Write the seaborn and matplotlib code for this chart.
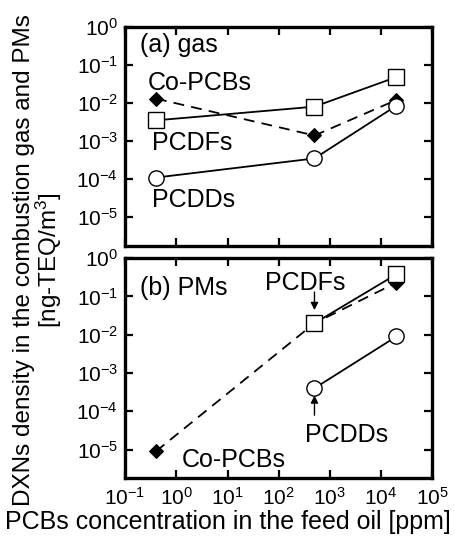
import matplotlib
matplotlib.use("Agg")
import matplotlib.pyplot as plt
import seaborn as sns
import pandas as pd

# feed oil PCB concentration [ppm]
x_ppm = [0.4, 500, 20000]
x_pm_short = [500, 20000]

# (a) combustion gas [ng-TEQ/m3]
gas_pcdfs = [3.5e-3, 8.0e-3, 4.8e-2]
gas_copcbs = [1.3e-2, 1.4e-3, 1.2e-2]
gas_pcdds = [1.1e-4, 3.5e-4, 8.5e-3]

# (b) particulate matter [ng-TEQ/m3]
pm_copcbs = [9e-6, 2.0e-2, 0.23]
pm_pcdfs = [2.0e-2, 0.38]
pm_pcdds = [4.0e-4, 9.0e-3]

TICK_FS = 15
TEXT_FS = 18

sns.set_style("ticks")
plt.rcParams["font.family"] = ["Liberation Sans", "DejaVu Sans"]
plt.rcParams["mathtext.fontset"] = "custom"
plt.rcParams["mathtext.rm"] = "Liberation Sans"
plt.rcParams["mathtext.it"] = "Liberation Sans"
plt.rcParams["font.size"] = TEXT_FS
for key in ["text.color", "axes.labelcolor", "axes.edgecolor",
            "xtick.color", "ytick.color"]:
    plt.rcParams[key] = "black"

fig = plt.figure(figsize=(4.55, 5.47), dpi=100)
ax_gas = fig.add_axes([0.275, 0.551, 0.675, 0.400])
ax_pm = fig.add_axes([0.275, 0.126, 0.675, 0.402])

square = dict(marker="s", markersize=11, markerfacecolor="white",
              markeredgecolor="black", markeredgewidth=1.0)
circle = dict(marker="o", markersize=11, markerfacecolor="white",
              markeredgecolor="black", markeredgewidth=1.0)
diamond = dict(marker="D", markersize=7, markerfacecolor="black",
               markeredgecolor="black")


def draw(ax, x, y, style, dashed=False):
    df = pd.DataFrame({"x": x, "y": y})
    line = sns.lineplot(data=df, x="x", y="y", ax=ax, color="black",
                        linewidth=1.3, sort=False, **style)
    if dashed:
        line.lines[-1].set_dashes([6, 4])


draw(ax_gas, x_ppm, gas_copcbs, diamond, dashed=True)
draw(ax_gas, x_ppm, gas_pcdfs, square)
draw(ax_gas, x_ppm, gas_pcdds, circle)

draw(ax_pm, x_ppm, pm_copcbs, diamond, dashed=True)
draw(ax_pm, x_pm_short, pm_pcdfs, square)
draw(ax_pm, x_pm_short, pm_pcdds, circle)

for ax in (ax_gas, ax_pm):
    ax.set_xscale("log")
    ax.set_yscale("log")
    ax.set_xlabel("")
    ax.set_ylabel("")
    ax.set_yticks([1e-5, 1e-4, 1e-3, 1e-2, 1e-1, 1])
    ax.set_xticks([1e-1, 1, 1e1, 1e2, 1e3, 1e4, 1e5])
    ax.set_ylim(1.8e-6, 1)
    ax.set_xlim(0.1, 1e5)
    for side in ax.spines.values():
        side.set_linewidth(2.4)
        side.set_color("black")
    ax.tick_params(which="both", direction="in", top=True, right=True,
                   colors="black", width=1.6)
    ax.tick_params(which="major", length=6, labelsize=TICK_FS, pad=5)
    ax.tick_params(which="minor", length=3)
    ax.tick_params(axis="x", which="major", pad=6)

ax_gas.tick_params(labelbottom=False)

# panel labels
ax_gas.text(0.049, 0.886, "(a) gas", transform=ax_gas.transAxes, va="baseline", ha="left")
ax_gas.text(0.075, 0.712, "Co-PCBs", transform=ax_gas.transAxes, va="baseline", ha="left")
ax_gas.text(0.088, 0.438, "PCDFs", transform=ax_gas.transAxes, va="baseline", ha="left")
ax_gas.text(0.088, 0.178, "PCDDs", transform=ax_gas.transAxes, va="baseline", ha="left")

ax_pm.text(0.049, 0.832, "(b) PMs", transform=ax_pm.transAxes, va="baseline", ha="left")
ax_pm.text(1.3, 3.5e-6, "Co-PCBs", va="baseline", ha="left")
ax_pm.text(330, 0.146, "PCDFs", va="baseline", ha="center")
ax_pm.text(2100, 1.6e-5, "PCDDs", va="baseline", ha="center")
arrow = dict(arrowstyle="-|>", color="black", lw=1.0, mutation_scale=11,
             shrinkA=0, shrinkB=0)
ax_pm.annotate("", xy=(500, 4.4e-2), xytext=(500, 0.13), arrowprops=arrow)
ax_pm.annotate("", xy=(500, 2.6e-4), xytext=(500, 7.9e-5), arrowprops=arrow)

fig.text(0.5, 0.033, "PCBs concentration in the feed oil [ppm]",
         ha="center", va="baseline")
fig.text(0.052, 0.525, "DXNs density in the combustion gas and PMs",
         rotation=90, ha="center", va="center", fontsize=17.5)
fig.text(0.108, 0.525, "[ng-TEQ/m$^3$]", rotation=90, ha="center", va="center",
         fontsize=17.5)

fig.savefig("out.png", dpi=100)
